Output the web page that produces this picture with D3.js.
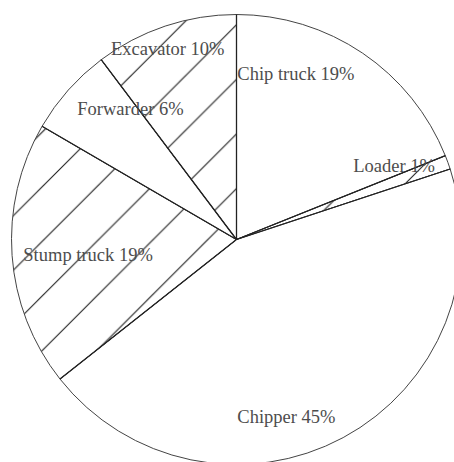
<!DOCTYPE html>
<html>
<head>
<meta charset="utf-8">
<script src="https://cdn.jsdelivr.net/npm/d3@7"></script>
<style>
  html, body { margin: 0; padding: 0; background: #fff; }
  svg { display: block; }
</style>
</head>
<body>
<svg id="chart" width="454" height="462"></svg>
<script>
// ---- data ----
const categories = ["Chip truck", "Loader", "Chipper", "Stump truck", "Forwarder", "Excavator"];
const shares     = [18.93, 1.0, 44.43, 19.04, 6.34, 10.27];
const labels     = ["Chip truck 19%", "Loader 1%", "Chipper 45%", "Stump truck 19%", "Forwarder 6%", "Excavator 10%"];
const hatched    = [false, true, false, true, false, true];

// ---- layout ----
const W = 454, H = 462;
const cx = 236.5, cy = 239.5, R = 225;
const hatchGap = 54.6;
// label anchor offsets from the pie centre (text-anchor: start, baseline)
const labelOffsets = [[0.8, -159.5], [116.8, -67.5], [0.8, 183.8], [-213.2, 21.2], [-159.2, -124.3], [-125.5, -184.3]];
// pattern phase per hatched slice
const hatchPhase = [0, 3.7, 0, 26.0, 0, 3.7];

const svg = d3.select("#chart");
const defs = svg.append("defs");

function makePattern(id, phase) {
  const p = defs.append("pattern")
    .attr("id", id)
    .attr("patternUnits", "userSpaceOnUse")
    .attr("width", hatchGap).attr("height", hatchGap)
    .attr("patternTransform", `translate(${phase},0)`);
  const segs = [[0, hatchGap, hatchGap, 0], [-2, 2, 2, -2], [hatchGap - 2, hatchGap + 2, hatchGap + 2, hatchGap - 2]];
  segs.forEach(s => p.append("line")
    .attr("x1", s[0]).attr("y1", s[1]).attr("x2", s[2]).attr("y2", s[3])
    .attr("stroke", "#1a1a1a").attr("stroke-width", 1.1));
}
makePattern("hatchA", hatchPhase[1]);
makePattern("hatchB", hatchPhase[3]);
const patternFor = i => hatched[i] ? (hatchPhase[i] === hatchPhase[3] ? "url(#hatchB)" : "url(#hatchA)") : "#fff";

const pie = d3.pie().sort(null).value(d => d)(shares);
const arc = d3.arc().innerRadius(0).outerRadius(R);

const g = svg.append("g").attr("transform", `translate(${cx},${cy})`);

g.selectAll("path.slice")
  .data(pie)
  .join("path")
  .attr("class", "slice")
  .attr("d", arc)
  .attr("fill", (d, i) => patternFor(i))
  .attr("stroke", "#444")
  .attr("stroke-width", 1);

// radial boundaries, drawn darker
g.selectAll("line.edge")
  .data(pie)
  .join("line")
  .attr("class", "edge")
  .attr("x1", 0).attr("y1", 0)
  .attr("x2", d => R * Math.sin(d.startAngle))
  .attr("y2", d => -R * Math.cos(d.startAngle))
  .attr("stroke", "#222")
  .attr("stroke-width", 1.3);

g.selectAll("text.lbl")
  .data(pie)
  .join("text")
  .attr("class", "lbl")
  .attr("x", (d, i) => labelOffsets[i][0])
  .attr("y", (d, i) => labelOffsets[i][1])
  .attr("text-anchor", "start")
  .attr("font-family", "'Liberation Serif', 'Times New Roman', serif")
  .attr("font-size", 18.5)
  .attr("fill", "#4d4d4d")
  .text((d, i) => labels[i]);
</script>
</body>
</html>
